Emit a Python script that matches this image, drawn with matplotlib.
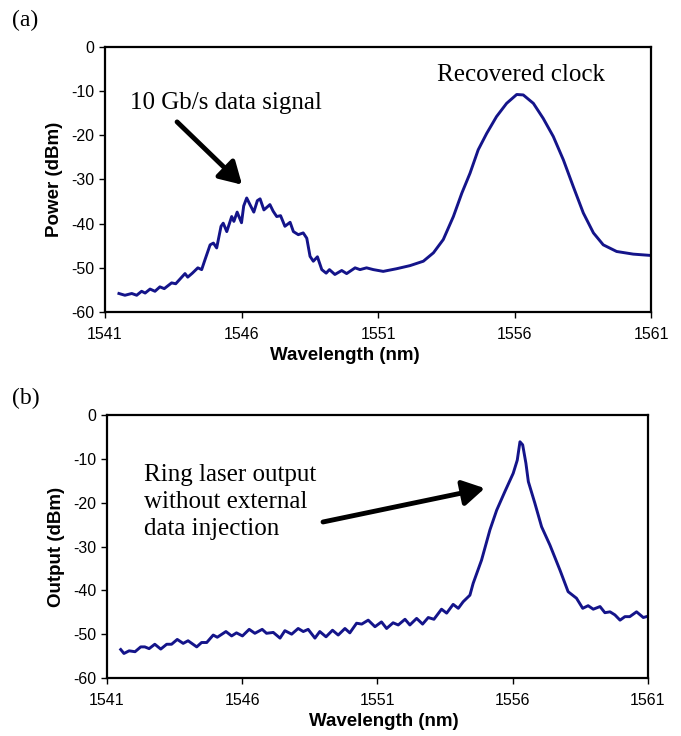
import matplotlib
matplotlib.use('Agg')
import matplotlib.pyplot as plt

plt.rcParams['axes.unicode_minus'] = False
plt.rcParams['font.family'] = ['Liberation Sans', 'DejaVu Sans']

# (a) optical spectrum with data injection
wl_a = [1541.51, 1541.73, 1541.98, 1542.16, 1542.34, 1542.47, 1542.65, 1542.83, 1543.01, 1543.17,
        1543.44, 1543.59, 1543.93, 1544.03, 1544.20, 1544.40, 1544.54, 1544.66, 1544.85, 1544.97,
        1545.09, 1545.25, 1545.33, 1545.46, 1545.64, 1545.72, 1545.84, 1546.00, 1546.08, 1546.19,
        1546.31, 1546.45, 1546.58, 1546.68, 1546.82, 1547.04, 1547.16, 1547.29, 1547.43, 1547.59,
        1547.78, 1547.90, 1548.08, 1548.26, 1548.39, 1548.51, 1548.63, 1548.78, 1548.94, 1549.10,
        1549.22, 1549.42, 1549.67, 1549.85, 1550.16, 1550.34, 1550.58, 1550.83, 1551.19, 1551.68,
        1552.17, 1552.66, 1553.03, 1553.39, 1553.76, 1554.07, 1554.37, 1554.67, 1554.98, 1555.34,
        1555.71, 1556.08, 1556.32, 1556.69, 1557.05, 1557.42, 1557.79, 1558.15, 1558.52, 1558.89,
        1559.25, 1559.74, 1560.35, 1561.00]
pw_a = [-55.8, -56.2, -55.8, -56.2, -55.3, -55.7, -54.8, -55.3, -54.3, -54.7,
        -53.4, -53.6, -51.3, -52.1, -51.2, -50.0, -50.4, -48.2, -44.8, -44.4,
        -45.5, -40.6, -39.9, -41.8, -38.4, -39.5, -37.4, -39.8, -36.0, -34.2,
        -35.7, -37.4, -34.8, -34.4, -36.9, -35.7, -37.2, -38.4, -38.2, -40.6,
        -39.7, -41.8, -42.5, -42.1, -43.3, -47.4, -48.5, -47.5, -50.4, -51.2,
        -50.4, -51.5, -50.6, -51.3, -50.0, -50.4, -50.0, -50.4, -50.8, -50.2,
        -49.5, -48.5, -46.6, -43.6, -38.4, -33.1, -28.6, -23.3, -19.6, -15.8,
        -12.8, -10.8, -10.9, -12.8, -16.2, -20.3, -25.6, -31.6, -37.6, -42.1,
        -44.8, -46.3, -46.9, -47.2]

# (b) ring laser alone
wl_b = [1541.51, 1541.63, 1541.82, 1542.04, 1542.25, 1542.40, 1542.56, 1542.77, 1542.99, 1543.21,
        1543.39, 1543.60, 1543.82, 1544.00, 1544.32, 1544.50, 1544.69, 1544.93, 1545.08, 1545.40,
        1545.61, 1545.79, 1546.01, 1546.26, 1546.47, 1546.74, 1546.90, 1547.15, 1547.40, 1547.58,
        1547.83, 1548.07, 1548.26, 1548.44, 1548.69, 1548.87, 1549.10, 1549.34, 1549.55, 1549.80,
        1549.98, 1550.23, 1550.42, 1550.66, 1550.91, 1551.15, 1551.34, 1551.58, 1551.77, 1552.02,
        1552.20, 1552.45, 1552.67, 1552.88, 1553.09, 1553.37, 1553.56, 1553.80, 1553.99, 1554.17,
        1554.42, 1554.54, 1554.85, 1555.16, 1555.41, 1555.71, 1556.02, 1556.17, 1556.27, 1556.37,
        1556.49, 1556.58, 1556.82, 1557.07, 1557.38, 1557.75, 1558.05, 1558.36, 1558.59, 1558.79,
        1558.98, 1559.23, 1559.41, 1559.60, 1559.78, 1559.97, 1560.15, 1560.33, 1560.58, 1560.83,
        1561.00]
pw_b = [-53.5, -54.4, -53.8, -54.0, -52.9, -52.9, -53.3, -52.3, -53.4, -52.3,
        -52.3, -51.2, -52.1, -51.5, -52.9, -51.9, -51.9, -50.2, -50.7, -49.4,
        -50.4, -49.7, -50.4, -48.9, -49.8, -48.9, -49.8, -49.6, -50.9, -49.2,
        -50.0, -48.7, -49.4, -48.9, -50.9, -49.4, -50.6, -49.1, -50.2, -48.7,
        -49.7, -47.5, -47.7, -46.8, -48.3, -47.2, -48.7, -47.4, -47.9, -46.6,
        -47.9, -46.4, -47.7, -46.2, -46.6, -44.3, -45.2, -43.2, -44.1, -42.6,
        -41.1, -38.4, -33.1, -26.2, -21.7, -17.5, -13.3, -10.3, -6.1, -6.8,
        -11.0, -15.2, -20.1, -25.5, -29.7, -35.4, -40.3, -41.8, -44.1, -43.5,
        -44.3, -43.7, -45.1, -44.9, -45.6, -46.8, -46.0, -46.0, -44.9, -46.2,
        -45.9]

xticks = [1541, 1546, 1551, 1556, 1561]
yticks = [-60, -50, -40, -30, -20, -10, 0]
line_col = '#14148a'
serif = ['Liberation Serif', 'DejaVu Serif']

fig = plt.figure(figsize=(6.81, 7.36), dpi=100)
ax_a = fig.add_axes([0.1542, 0.576, 0.8018, 0.3605])
ax_b = fig.add_axes([0.157, 0.0788, 0.7944, 0.3573])


def style(ax, ylab):
    ax.set_xlim(1541, 1561)
    ax.set_ylim(-60, 0)
    ax.set_xticks(xticks)
    ax.set_yticks(yticks)
    ax.tick_params(direction='out', length=4, width=1, labelsize=11.5)
    ax.tick_params(axis='x', pad=7)
    for s in ax.spines.values():
        s.set_linewidth(1.6)
    ax.set_ylabel(ylab, fontsize=13.5, fontweight='bold', labelpad=6)


ax_a.plot(wl_a, pw_a, color=line_col, lw=2.1)
style(ax_a, 'Power (dBm)')
ax_a.text(1541.92, -14.1, '10 Gb/s data signal', family=serif, fontsize=18, va='baseline')
ax_a.text(1553.16, -7.7, 'Recovered clock', family=serif, fontsize=18, va='baseline')
ax_a.annotate('', xy=(1546.02, -31.2), xytext=(1543.64, -17.0),
              arrowprops=dict(arrowstyle='-|>,head_length=0.6,head_width=0.35',
                              color='black', lw=3.5, mutation_scale=22, shrinkA=0, shrinkB=0))

ax_b.plot(wl_b, pw_b, color=line_col, lw=2.1)
style(ax_b, 'Output (dBm)')
ax_b.text(1542.37, -11.2, 'Ring laser output\nwithout external\ndata injection',
          family=serif, fontsize=18, va='top', linespacing=1.3)
ax_b.annotate('', xy=(1554.97, -16.7), xytext=(1548.99, -24.4),
              arrowprops=dict(arrowstyle='-|>,head_length=0.6,head_width=0.35',
                              color='black', lw=3.5, mutation_scale=22, shrinkA=0, shrinkB=0))

fig.text(345 / 681, 1 - 355 / 736, 'Wavelength (nm)', fontsize=13.5, fontweight='bold',
         ha='center', va='center')
fig.text(384 / 681, 1 - 722 / 736, 'Wavelength (nm)', fontsize=13.5, fontweight='bold',
         ha='center', va='center')

fig.text(12 / 681, 1 - 20 / 736, '(a)', family=serif, fontsize=17, va='center')
fig.text(12 / 681, 1 - 398 / 736, '(b)', family=serif, fontsize=17, va='center')

fig.savefig('out.png', dpi=100)
